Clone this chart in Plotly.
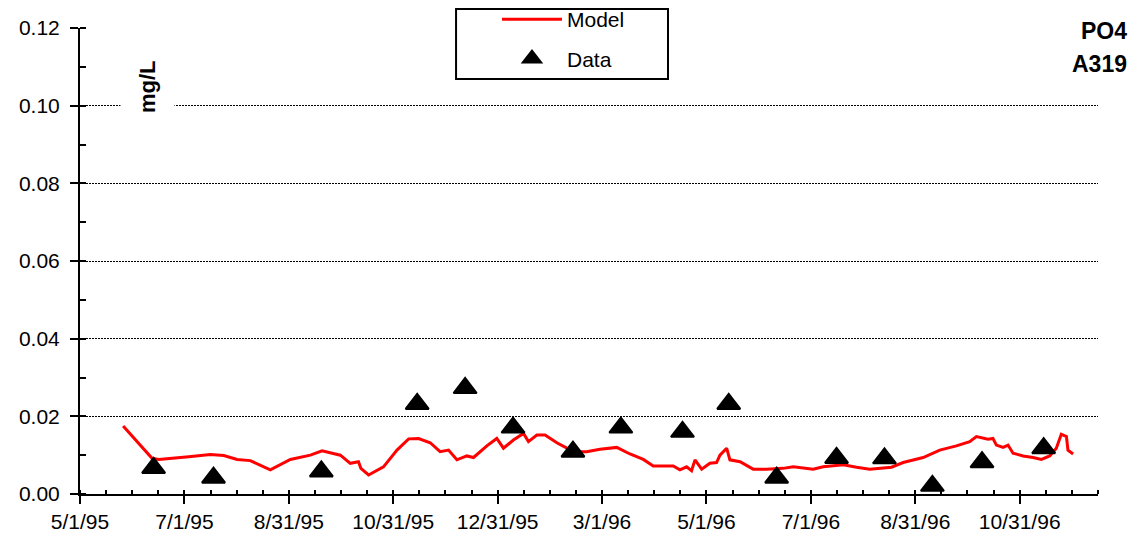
import pandas as pd
import plotly.graph_objects as go

# ---- data ----
start_date = "1995-05-01"
axis_end_days = 594.75

model_days = [25.2, 33.4, 42.1, 46, 54.8, 63.5, 76.2, 84, 91.8, 99.5, 111.2, 122.9,
              134.6, 141.4, 152.1, 157.9, 162.7, 164.1, 168.6, 177.3, 185.2, 192,
              197.8, 204.6, 210.4, 215.3, 220.2, 226, 229.9, 237.7, 243.5, 247.4,
              253.2, 259.1, 262, 266.9, 271.7, 278.6, 288.3, 296, 303.8, 313.6,
              321.3, 329.1, 334.9, 346.6, 350.5, 354.4, 357.3, 359.3, 363.2, 368,
              371.9, 373.9, 377.8, 379.7, 385.6, 393.3, 401.1, 410.8, 416.7, 428.3,
              434.2, 445.9, 453.7, 461.4, 474.1, 480.9, 492.6, 502.3, 512, 519.8,
              523.7, 530.5, 533.4, 535.4, 539.3, 542.2, 545.1, 551, 556.8, 561.7,
              566.5, 570.4, 573.3, 576.3, 577.2, 580.2]
model_vals = [0.0175, 0.0135, 0.0092, 0.0089, 0.0092, 0.0096, 0.0102, 0.0099, 0.0089,
              0.0086, 0.0062, 0.0089, 0.0100, 0.0111, 0.0100, 0.0079, 0.0083, 0.0066,
              0.0049, 0.0070, 0.0113, 0.0142, 0.0143, 0.0132, 0.0109, 0.0113, 0.0088,
              0.0098, 0.0094, 0.0124, 0.0143, 0.0118, 0.0139, 0.0156, 0.0135, 0.0152,
              0.0152, 0.0132, 0.0109, 0.0109, 0.0115, 0.0120, 0.0103, 0.0089, 0.0072,
              0.0072, 0.0062, 0.0070, 0.0060, 0.0088, 0.0064, 0.0079, 0.0081, 0.0100,
              0.0118, 0.0088, 0.0083, 0.0064, 0.0064, 0.0066, 0.0070, 0.0064, 0.0070,
              0.0075, 0.0069, 0.0064, 0.0069, 0.0081, 0.0094, 0.0113, 0.0124, 0.0135,
              0.0148, 0.0141, 0.0143, 0.0126, 0.0120, 0.0126, 0.0105, 0.0098, 0.0094,
              0.0089, 0.0098, 0.0118, 0.0154, 0.0148, 0.0113, 0.0103]

data_dates = ["1995-06-13", "1995-07-18", "1995-09-19", "1995-11-14", "1995-12-12",
              "1996-01-09", "1996-02-13", "1996-03-12", "1996-04-17", "1996-05-14",
              "1996-06-11", "1996-07-16", "1996-08-13", "1996-09-10", "1996-10-09",
              "1996-11-14"]
data_vals = [0.0067, 0.0042, 0.0058, 0.0232, 0.0273, 0.0171, 0.0109, 0.0171, 0.0160,
             0.0232, 0.0042, 0.0093, 0.0092, 0.0021, 0.0082, 0.0118]

y_ticks = [0.00, 0.02, 0.04, 0.06, 0.08, 0.10, 0.12]

series_names = ["Model", "Data"]
unit_label = "mg/L"
title_lines = ["PO4", "A319"]

# ---- build ----
base = pd.Timestamp(start_date)
model_x = [base + pd.to_timedelta(d, unit="D") for d in model_days]
x_end = base + pd.to_timedelta(axis_end_days, unit="D")
x_range = [base, x_end]

DAY_MS = 86400000
FONT = "Arial, Liberation Sans, sans-serif"

fig = go.Figure()
fig.add_trace(go.Scatter(
    x=model_x, y=model_vals, mode="lines", name=series_names[0],
    line=dict(color="#FF0000", width=3), legendgroup="a",
))
fig.add_trace(go.Scatter(
    x=pd.to_datetime(data_dates), y=data_vals, mode="markers", name=series_names[1],
    marker=dict(symbol="triangle-up", size=20, color="black",
                line=dict(color="black", width=2)),
    xaxis="x2", legendgroup="b",
))

common_x = dict(type="date", range=x_range, tick0=start_date, dtick=61 * DAY_MS)

# page body has an 8px margin; figure sized so the page is exactly 1140x541
fig.update_layout(
    width=1124, height=525,
    margin=dict(l=72, r=34, t=20, b=39, autoexpand=False),
    paper_bgcolor="white", plot_bgcolor="white",
    font=dict(family=FONT, size=21, color="black"),
    showlegend=True,
    legend=dict(
        x=0.4096, xanchor="left", y=1.062, yanchor="top",
        bgcolor="rgba(0,0,0,0)", borderwidth=0,
        font=dict(family=FONT, size=21, color="black"),
        traceorder="grouped", tracegroupgap=9, itemwidth=60,
    ),
    xaxis=dict(
        **common_x,
        tickformat="%-m/%-d/%y",
        showline=True, linecolor="black", linewidth=2,
        ticks="outside", ticklen=8, tickwidth=2, tickcolor="black",
        minor=dict(dtick=15.25 * DAY_MS, tick0=start_date, ticks="inside",
                   ticklen=4, tickwidth=2, tickcolor="black"),
        showgrid=False, zeroline=False,
        tickfont=dict(family=FONT, size=21),
    ),
    xaxis2=dict(
        **common_x,
        overlaying="x", anchor="y", side="bottom",
        ticks="inside", ticklen=4, tickwidth=2, tickcolor="black",
        showticklabels=False, showline=False, showgrid=False, zeroline=False,
    ),
    yaxis=dict(
        range=[0, 0.12], tickvals=y_ticks, tickformat=".2f",
        showline=True, linecolor="black", linewidth=2,
        ticks="outside", ticklen=8, tickwidth=2, tickcolor="black",
        ticklabelstandoff=6,
        minor=dict(dtick=0.01, ticks="inside", ticklen=6, tickwidth=2,
                   tickcolor="black", showgrid=False),
        showgrid=True, gridcolor="black", gridwidth=1, griddash="2px,1px",
        zeroline=False,
        tickfont=dict(family=FONT, size=21),
    ),
    shapes=[
        dict(type="rect", xref="paper", yref="paper",
             x0=0.3694, x1=0.5776, y0=0.8906, y1=1.0408,
             fillcolor="white", line=dict(color="black", width=2), layer="above"),
    ],
    annotations=[
        dict(text="<b>" + unit_label + "</b>", xref="paper", yref="paper",
             x=0.0658, y=0.8755, xanchor="center", yanchor="middle",
             textangle=-90, showarrow=False, bgcolor="white", borderpad=14,
             font=dict(family=FONT, size=22, color="black")),
        dict(text="<b>" + title_lines[0] + "</b>", xref="paper", yref="paper",
             x=1.0442, y=0.9946, xanchor="right", yanchor="middle",
             showarrow=False, bgcolor="white", borderpad=15,
             font=dict(family=FONT, size=23, color="black")),
        dict(text="<b>" + title_lines[1] + "</b>", xref="paper", yref="paper",
             x=1.0305, y=0.9217, xanchor="right", yanchor="middle",
             showarrow=False, borderpad=1,
             font=dict(family=FONT, size=23, color="black")),
    ],
)

fig.write_html("out.html")
